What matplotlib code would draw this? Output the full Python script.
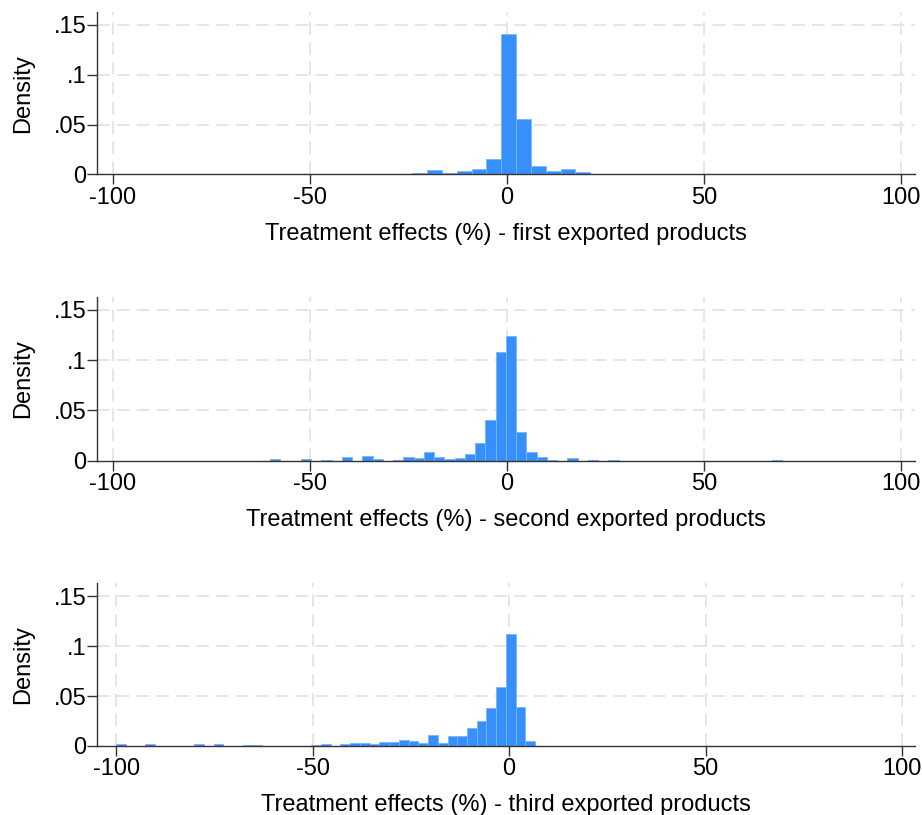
import matplotlib
matplotlib.use("Agg")
import matplotlib.pyplot as plt
import numpy as np

plt.rcParams['font.family'] = ['Liberation Sans', 'DejaVu Sans']
plt.rcParams['axes.unicode_minus'] = False

# ---------------- data (density per bin, 50 bins per panel) ----------------
first_start, first_width = -95.4, 3.76
first_density = [
    0.0005, 0, 0, 0, 0.0004, 0, 0, 0, 0, 0,
    0, 0, 0, 0, 0.0004, 0, 0, 0, 0.0005, 0.0012,
    0.0045, 0.0012, 0.0035, 0.0055, 0.0155, 0.1413, 0.0560, 0.0085, 0.0035, 0.0052,
    0.0025, 0.0007, 0.0007, 0.0008, 0, 0, 0, 0.0006, 0, 0,
    0, 0, 0, 0, 0, 0, 0, 0, 0, 0.0004,
]

second_start, second_width = -60.05, 2.6
second_density = [
    0.0017, 0, 0, 0.0017, 0, 0.0005, 0, 0.0038, 0, 0.0045,
    0.0018, 0, 0.0005, 0.0038, 0.0028, 0.0083, 0.0038, 0.0015, 0.0025, 0.0063,
    0.0175, 0.0400, 0.1085, 0.1238, 0.0288, 0.0082, 0.0037, 0.0004, 0, 0.0027,
    0, 0.0004, 0, 0.0005, 0, 0, 0, 0, 0, 0,
    0, 0, 0, 0, 0, 0, 0, 0, 0, 0.0004,
]

third_start, third_width = -100.0, 2.48
third_density = [
    0.0023, 0, 0.0003, 0.0023, 0, 0.0004, 0.0004, 0, 0.0017, 0,
    0.0017, 0, 0, 0.0013, 0.0013, 0.0004, 0.0004, 0, 0.0004, 0.0004,
    0.0013, 0.0023, 0.0004, 0.0017, 0.0034, 0.0034, 0.0024, 0.0044, 0.0037, 0.0064,
    0.0054, 0.0034, 0.0105, 0.0034, 0.0095, 0.0095, 0.0180, 0.0250, 0.0376, 0.0589,
    0.1117, 0.0386, 0.0045, 0.0003, 0, 0.0004, 0, 0.0004, 0.0004, 0.0004,
]

panels = [
    (first_start, first_width, first_density, "Treatment effects (%) - first exported products", (-103.9, 103.6)),
    (second_start, second_width, second_density, "Treatment effects (%) - second exported products", (-103.9, 103.6)),
    (third_start, third_width, third_density, "Treatment effects (%) - third exported products", (-104.8, 103.3)),
]

x_ticks = [-100, -50, 0, 50, 100]
y_ticks = [0, 0.05, 0.1, 0.15]
y_ticklabels = ["0", ".05", ".1", ".15"]

bar_color = "#3790FA"
edge_color = "#78B4FF"
grid_color = "#E4E4E4"
axis_color = "#333333"
fs = 17

fig = plt.figure(figsize=(9.22, 8.15), dpi=100)

# axes rectangles (left, bottom, width, height)
rects = [
    (0.1055, 0.7861, 0.887, 0.1992),
    (0.1055, 0.4347, 0.887, 0.2013),
    (0.1055, 0.0847, 0.887, 0.1996),
]

for rect, (start, width, dens, xlabel, xlim) in zip(rects, panels):
    ax = fig.add_axes(rect)
    dens = np.array(dens)
    lefts = start + width * np.arange(len(dens))
    ax.bar(lefts, dens, width=width, align='edge', color=bar_color,
           edgecolor=edge_color, linewidth=0.6, zorder=3)

    ax.set_xlim(*xlim)
    ax.set_ylim(0, 0.163)
    ax.set_xticks(x_ticks)
    ax.set_xticklabels([str(t) for t in x_ticks])
    ax.set_yticks(y_ticks)
    ax.set_yticklabels(y_ticklabels)

    for t in x_ticks:
        ax.axvline(t, color=grid_color, lw=1.3, ls=(0, (7, 4)), zorder=1)
    for t in y_ticks[1:]:
        ax.axhline(t, color=grid_color, lw=1.3, ls=(0, (7, 4)), zorder=1)

    for side in ['top', 'right']:
        ax.spines[side].set_visible(False)
    for side in ['left', 'bottom']:
        ax.spines[side].set_color(axis_color)
        ax.spines[side].set_linewidth(1.0)
        ax.spines[side].set_zorder(4)

    ax.tick_params(axis='both', direction='out', length=7, width=1.0,
                   color=axis_color, labelsize=fs, labelcolor='black', pad=1)
    ax.tick_params(axis='x', pad=2)
    ax.set_xlabel(xlabel, fontsize=fs, labelpad=10)
    ax.set_ylabel("Density", fontsize=fs, labelpad=14)

fig.savefig("out.png", dpi=100)
